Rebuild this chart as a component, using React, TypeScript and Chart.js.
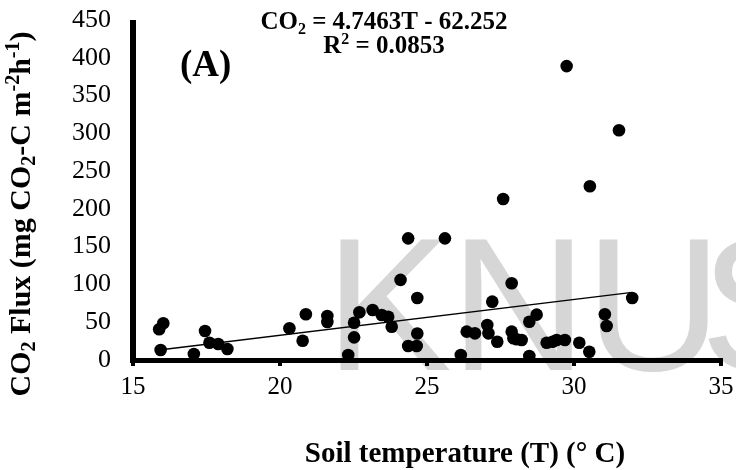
import React, { useEffect, useRef } from 'react';
import { Chart, registerables } from 'chart.js';

Chart.register(...registerables);

// Soil temperature (°C) for each observation
const soilTemp = [
  15.89, 16.03, 15.94, 17.07, 17.45, 17.6, 17.9, 18.21,
  20.32, 20.88, 20.77, 21.61, 21.61, 22.7, 22.52, 22.52, 22.32,
  23.15, 23.46, 23.68, 23.8, 24.1, 24.36, 25.61, 24.67, 24.67, 24.36, 24.65,
  26.15, 26.35, 26.63, 27.05, 27.09, 27.22, 27.39, 27.59, 27.88, 27.88, 27.94,
  28.05, 28.22, 28.48, 28.48, 28.73, 29.07, 29.27, 29.41, 29.69, 30.18, 30.52,
  29.75, 31.53, 30.54, 31.98, 31.05, 31.11,
];
// CO2 flux (mg CO2-C m-2 h-1) for each observation
const co2Flux = [
  40.6, 48.6, 13.2, 7.9, 38.4, 22.9, 21.2, 14.6,
  42, 60.5, 25.5, 58.2, 50.3, 63.1, 49.4, 30, 6.6,
  66.2, 59.6, 57.3, 44, 106, 161, 161, 82, 35, 18.5, 18.5,
  6.6, 37.5, 35.3, 46.3, 35.3, 77.2, 24.2, 213, 101.5, 37.5, 28.7,
  27.5, 26.5, 5.3, 50.7, 60, 22.9, 24.2, 26.5, 26.5, 22.9, 11,
  389, 304, 230, 82, 60.5, 45,
];
// Linear trendline end points
const trendX = [15.89, 31.98];
const trendY = [13.2, 89.5];

const xMin = 15;
const xMax = 35;
const xStep = 5;
const yMin = 0;
const yMax = 450;
const yStep = 50;

const equationLine1 = [
  { t: 'CO', k: 'n' },
  { t: '2', k: 'sub' },
  { t: ' = 4.7463T - 62.252', k: 'n' },
];
const equationLine2 = [
  { t: 'R', k: 'n' },
  { t: '2', k: 'sup' },
  { t: ' = 0.0853', k: 'n' },
];
const panelLabel = '(A)';
const xTitle = 'Soil temperature (T) (° C)';
const yTitle = [
  { t: 'CO', k: 'n' },
  { t: '2', k: 'sub' },
  { t: ' Flux (mg CO', k: 'n' },
  { t: '2', k: 'sub' },
  { t: '-C m', k: 'n' },
  { t: '-2', k: 'sup' },
  { t: 'h', k: 'n' },
  { t: '-1', k: 'sup' },
  { t: ')', k: 'n' },
];
const watermark = ['K', 'N', 'U', 'S'];

const SERIF = '"Liberation Serif", "Times New Roman", serif';

type Seg = { t: string; k: string };

function segFont(k: string, size: number, bold: boolean) {
  const s = k === 'n' ? size : Math.round(size * 0.65);
  return `${bold ? 'bold ' : ''}${s}px ${SERIF}`;
}

function measureRich(ctx: CanvasRenderingContext2D, segs: Seg[], size: number, bold: boolean) {
  let w = 0;
  for (const s of segs) {
    ctx.font = segFont(s.k, size, bold);
    w += ctx.measureText(s.t).width;
  }
  return w;
}

function drawRich(
  ctx: CanvasRenderingContext2D,
  segs: Seg[],
  cx: number,
  baseline: number,
  size: number,
  bold: boolean
) {
  const w = measureRich(ctx, segs, size, bold);
  let x = cx - w / 2;
  ctx.textAlign = 'left';
  ctx.textBaseline = 'alphabetic';
  for (const s of segs) {
    ctx.font = segFont(s.k, size, bold);
    let dy = 0;
    if (s.k === 'sub') dy = size * 0.18;
    if (s.k === 'sup') dy = -size * 0.36;
    ctx.fillText(s.t, x, baseline + dy);
    x += ctx.measureText(s.t).width;
  }
}

const watermarkPlugin = {
  id: 'watermark',
  beforeDraw(chart: any) {
    const ctx = chart.ctx as CanvasRenderingContext2D;
    ctx.save();
    ctx.fillStyle = 'rgb(214,214,214)';
    ctx.font = '190px "Liberation Sans", Arial, sans-serif';
    ctx.textAlign = 'left';
    ctx.textBaseline = 'alphabetic';
    const xs = [325, 450, 585, 700];
    watermark.forEach((ch, i) => ctx.fillText(ch, xs[i], 370));
    ctx.restore();
  },
};

const axesPlugin = {
  id: 'axesDraw',
  beforeDatasetsDraw(chart: any) {
    const ctx = chart.ctx as CanvasRenderingContext2D;
    const { left, right, top, bottom } = chart.chartArea;
    const xs = chart.scales.x;
    ctx.save();
    ctx.fillStyle = '#000';
    ctx.fillRect(left - 3, top, 6, bottom - top + 3);
    ctx.fillRect(left - 3, bottom - 2, right - left + 5, 5);
    for (let v = xMin; v <= xMax; v += xStep) {
      const px = xs.getPixelForValue(v);
      ctx.fillRect(px - 2, bottom + 2, 4, 4);
    }
    ctx.restore();
  },
};

const textPlugin = {
  id: 'texts',
  afterDraw(chart: any) {
    const ctx = chart.ctx as CanvasRenderingContext2D;
    ctx.save();
    ctx.fillStyle = '#000';
    // panel label
    ctx.font = `bold 37px ${SERIF}`;
    ctx.textAlign = 'left';
    ctx.textBaseline = 'alphabetic';
    ctx.fillText(panelLabel, 180, 76);
    // equation
    drawRich(ctx, equationLine1, 384, 29, 25, true);
    drawRich(ctx, equationLine2, 384, 53, 25, true);
    // x title
    drawRich(ctx, [{ t: xTitle, k: 'n' }], 465, 462, 29, true);
    // y title
    ctx.translate(30, 214);
    ctx.rotate(-Math.PI / 2);
    drawRich(ctx, yTitle, 0, 0, 30, true);
    ctx.restore();
  },
};

export default function App() {
  const ref = useRef<HTMLCanvasElement | null>(null);

  useEffect(() => {
    if (!ref.current) return;
    const points = soilTemp.map((x, i) => ({ x, y: co2Flux[i] }));
    const trend = trendX.map((x, i) => ({ x, y: trendY[i] }));
    const chart = new Chart(ref.current, {
      type: 'scatter',
      data: {
        datasets: [
          {
            label: 'trend',
            data: trend,
            showLine: true,
            borderColor: '#000',
            borderWidth: 1.5,
            pointRadius: 0,
            fill: false,
          } as any,
          {
            label: 'CO2 flux',
            data: points,
            backgroundColor: '#000',
            borderColor: '#000',
            borderWidth: 0,
            pointRadius: 6.3,
            pointHoverRadius: 6.3,
          },
        ],
      },
      options: {
        animation: false,
        responsive: false,
        events: [],
        layout: { padding: { left: 0, right: 15, top: 20, bottom: 0 } },
        plugins: {
          legend: { display: false },
          tooltip: { enabled: false },
        },
        scales: {
          x: {
            type: 'linear',
            min: xMin,
            max: xMax,
            afterFit: (s: any) => {
              s.height = 110;
            },
            ticks: {
              stepSize: xStep,
              color: '#000',
              font: { family: SERIF, size: 25 },
              padding: 2,
              maxRotation: 0,
            },
            grid: {
              display: true,
              drawOnChartArea: false,
              drawTicks: true,
              tickLength: 10,
              color: 'rgba(0,0,0,0)',
            },
            border: { display: false },
          },
          y: {
            type: 'linear',
            min: yMin,
            max: yMax,
            afterFit: (s: any) => {
              s.width = 133;
            },
            ticks: {
              stepSize: yStep,
              color: '#000',
              font: { family: SERIF, size: 26 },
              padding: 2,
            },
            grid: {
              display: true,
              drawOnChartArea: false,
              drawTicks: true,
              tickLength: 20,
              color: 'rgba(0,0,0,0)',
            },
            border: { display: false },
          },
        },
      },
      plugins: [watermarkPlugin, axesPlugin, textPlugin],
    });
    return () => chart.destroy();
  }, []);

  return (
    <div style={{ position: 'fixed', left: 0, top: 0, width: 736, height: 470, background: '#fff' }}>
      <canvas ref={ref} width={736} height={470} style={{ display: 'block' }} />
    </div>
  );
}
